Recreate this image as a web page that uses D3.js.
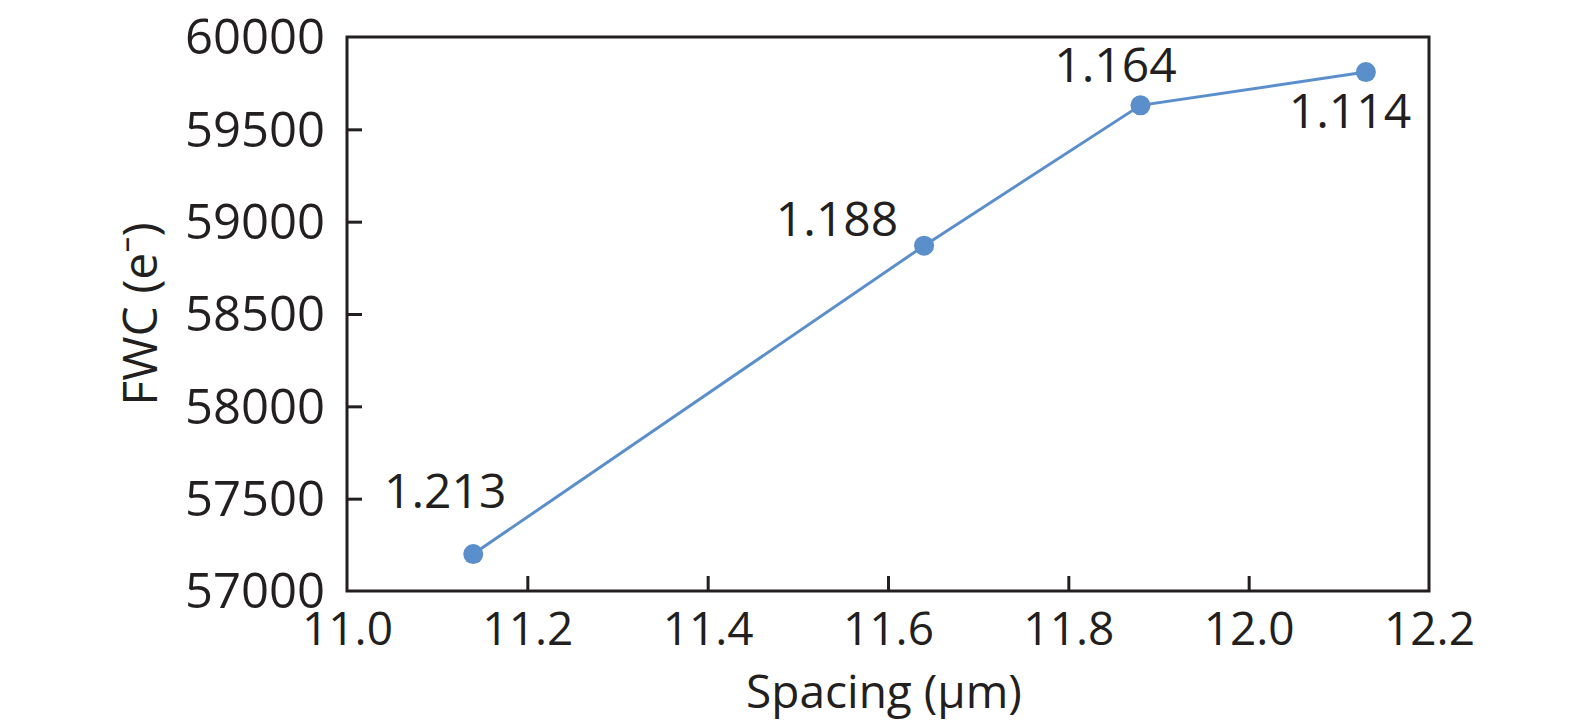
<!DOCTYPE html>
<html>
<head>
<meta charset="utf-8">
<script src="https://cdn.jsdelivr.net/npm/d3@7"></script>
<style>
  html, body { margin: 0; padding: 0; background: #fff; }
  svg { display: block; font-family: "Open Sans", "Noto Sans", sans-serif; }
</style>
</head>
<body>
<svg id="chart" width="1575" height="728"></svg>
<script>
const spacing = [11.14, 11.64, 11.88, 12.13];
const fwc = [57200, 58870, 59630, 59810];
const pointLabels = ["1.213", "1.188", "1.164", "1.114"];
const xTicks = [11.0, 11.2, 11.4, 11.6, 11.8, 12.0, 12.2];
const yTicks = [57000, 57500, 58000, 58500, 59000, 59500, 60000];
const labelOffsets = [[-28, -46], [-87, -10], [-25, -23], [-16, 56]];

const svg = d3.select("#chart");
const m = { left: 347, right: 1429, top: 37, bottom: 591 };
const x = d3.scaleLinear().domain([11.0, 12.2]).range([m.left, m.right]);
const y = d3.scaleLinear().domain([57000, 60000]).range([m.bottom, m.top]);
const color = "#5b8fcc";
const ink = "#231f20";

// frame
svg.append("rect")
  .attr("x", m.left).attr("y", m.top)
  .attr("width", m.right - m.left).attr("height", m.bottom - m.top)
  .attr("fill", "none").attr("stroke", ink).attr("stroke-width", 3);

const xAxis = svg.append("g").attr("transform", `translate(0,${m.bottom})`)
  .call(d3.axisBottom(x).tickValues(xTicks).tickFormat(d3.format(".1f")).tickSizeInner(-15).tickSizeOuter(0).tickPadding(21));
const yAxis = svg.append("g").attr("transform", `translate(${m.left},0)`)
  .call(d3.axisLeft(y).tickValues(yTicks).tickFormat(d3.format("d")).tickSizeInner(-15).tickSizeOuter(0).tickPadding(22));
[xAxis, yAxis].forEach(g => {
  g.select(".domain").remove();
  g.selectAll(".tick line").attr("stroke", ink).attr("stroke-width", 3);
  g.selectAll(".tick text").attr("fill", ink).style("font-family", '"Open Sans", sans-serif');
});
xAxis.selectAll(".tick text").style("font-size", "46px").attr("dy", "0.71em");
yAxis.selectAll(".tick text").style("font-size", "49px").attr("dy", "0.34em");
// edge ticks coincide with the frame
xAxis.selectAll(".tick line").filter(d => d === 11.0 || d === 12.2).remove();
yAxis.selectAll(".tick line").filter(d => d === 57000 || d === 60000).remove();

const pts = spacing.map((s, i) => ({ s, f: fwc[i], l: pointLabels[i], o: labelOffsets[i] }));

svg.append("path").datum(pts)
  .attr("d", d3.line().x(d => x(d.s)).y(d => y(d.f)))
  .attr("fill", "none").attr("stroke", color).attr("stroke-width", 3);

svg.selectAll("circle.pt").data(pts).enter().append("circle")
  .attr("class", "pt")
  .attr("cx", d => x(d.s)).attr("cy", d => y(d.f)).attr("r", 10)
  .attr("fill", color);

svg.selectAll("text.lbl").data(pts).enter().append("text")
  .attr("class", "lbl")
  .attr("x", d => x(d.s) + d.o[0]).attr("y", d => y(d.f) + d.o[1])
  .attr("text-anchor", "middle")
  .attr("fill", ink).style("font-size", "48px")
  .text(d => d.l);

svg.append("text")
  .attr("x", 884).attr("y", 708)
  .attr("text-anchor", "middle").attr("fill", ink).style("font-size", "46px")
  .text("Spacing (μm)");

svg.append("text")
  .attr("transform", `translate(157,${(m.top + m.bottom) / 2}) rotate(-90)`)
  .attr("text-anchor", "middle").attr("fill", ink).style("font-size", "48px")
  .text("FWC (e⁻)");
</script>
</body>
</html>
